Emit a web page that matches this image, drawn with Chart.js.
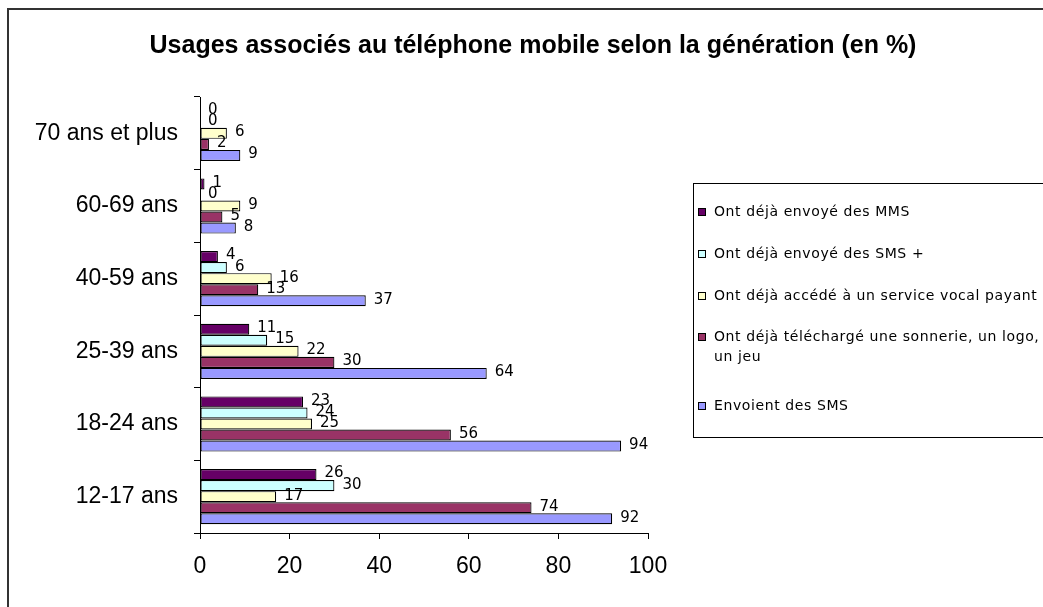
<!DOCTYPE html>
<html><head><meta charset="utf-8">
<script src="https://cdn.jsdelivr.net/npm/chart.js@4/dist/chart.umd.min.js"></script>
<style>html,body{margin:0;padding:0;background:#fff;overflow:hidden}#wrap{position:relative;width:1043px;height:607px}</style>
</head><body><div id="wrap"><canvas id="c" width="1043" height="607"></canvas></div>
<script>
const chartTitle = 'Usages associés au téléphone mobile selon la génération (en %)';
const categories = ['70 ans et plus', '60-69 ans', '40-59 ans', '25-39 ans', '18-24 ans', '12-17 ans'];
const seriesNames = [
  ['Ont déjà envoyé des MMS'],
  ['Ont déjà envoyé des SMS +'],
  ['Ont déjà accédé à un service vocal payant'],
  ['Ont déjà téléchargé une sonnerie, un logo,', 'un jeu'],
  ['Envoient des SMS']
];
const mms      = [0, 1, 4, 11, 23, 26];
const smsPlus  = [0, 0, 6, 15, 24, 30];
const vocal    = [6, 9, 16, 22, 25, 17];
const sonnerie = [2, 5, 13, 30, 56, 74];
const sms      = [9, 8, 37, 64, 94, 92];
const xTickValues = [0, 20, 40, 60, 80, 100];
const seriesColors = ['#660066', '#CCFFFF', '#FFFFCC', '#993366', '#9999FF'];

const seriesValues = [mms, smsPlus, vocal, sonnerie, sms];

const datasets = seriesValues.map((vals, i) => ({
  label: seriesNames[i].join(' '),
  data: vals,
  backgroundColor: seriesColors[i],
  borderColor: '#000',
  borderWidth: 1.2,
  borderSkipped: false,
  categoryPercentage: 0.76,
  barPercentage: 1.0
}));

const framePlugin = {
  id: 'frame',
  beforeDraw(chart) {
    const ctx = chart.ctx;
    ctx.save();
    ctx.fillStyle = '#fff';
    ctx.fillRect(0, 0, chart.width, chart.height);
    ctx.strokeStyle = '#333';
    ctx.lineWidth = 2;
    ctx.strokeRect(8, 9, 1200, 800);
    ctx.fillStyle = '#000';
    ctx.font = 'bold 25px "Liberation Sans", Arial, sans-serif';
    ctx.textAlign = 'center';
    ctx.textBaseline = 'middle';
    ctx.fillText(chartTitle, 533, 46);
    ctx.restore();
  }
};

const labelPlugin = {
  id: 'valueLabels',
  afterDatasetsDraw(chart) {
    const ctx = chart.ctx;
    ctx.save();
    ctx.font = '15px "DejaVu Sans", sans-serif';
    ctx.fillStyle = '#000';
    ctx.textAlign = 'left';
    ctx.textBaseline = 'middle';
    chart.data.datasets.forEach((ds, i) => {
      const meta = chart.getDatasetMeta(i);
      meta.data.forEach((el, j) => {
        ctx.fillText(String(ds.data[j]), el.x + 8, el.y - 1);
      });
    });
    ctx.restore();
  }
};

const legendPlugin = {
  id: 'boxLegend',
  afterDraw(chart) {
    const ctx = chart.ctx;
    const rows = [212, 254, 296, 337, 406];
    ctx.save();
    ctx.fillStyle = '#fff';
    ctx.strokeStyle = '#000';
    ctx.lineWidth = 1;
    ctx.fillRect(693, 183, 400, 254);
    ctx.strokeRect(693.5, 183.5, 400, 254);
    ctx.font = '14px "DejaVu Sans", sans-serif';
    try { ctx.letterSpacing = '0.6px'; } catch (e) {}
    ctx.textAlign = 'left';
    ctx.textBaseline = 'middle';
    chart.data.datasets.forEach((ds, i) => {
      const y = rows[i];
      ctx.fillStyle = ds.backgroundColor;
      ctx.fillRect(698, y - 4, 8, 8);
      ctx.strokeStyle = '#000';
      ctx.strokeRect(698.5, y - 3.5, 7, 7);
      ctx.fillStyle = '#000';
      seriesNames[i].forEach((line, k) => {
        ctx.fillText(line, 714, y + k * 20);
      });
    });
    ctx.restore();
  }
};

new Chart(document.getElementById('c'), {
  type: 'bar',
  data: { labels: categories, datasets },
  options: {
    indexAxis: 'y',
    responsive: false,
    animation: false,
    devicePixelRatio: 1,
    layout: { padding: { top: 97, right: 395, bottom: 0, left: 0 } },
    plugins: {
      legend: { display: false },
      title: { display: false },
      tooltip: { enabled: false }
    },
    scales: {
      x: {
        min: 0, max: 100,
        afterFit(scale) { scale.height = 74; },
        afterBuildTicks(scale) { scale.ticks = xTickValues.map(v => ({ value: v })); },
        grid: { drawOnChartArea: false, drawTicks: true, tickLength: 6, color: '#000', lineWidth: 1 },
        border: { display: true, color: '#000', width: 1 },
        ticks: { color: '#000', padding: 14, font: { family: '"Liberation Sans", Arial, sans-serif', size: 23 } }
      },
      y: {
        afterFit(scale) { scale.width = 200; },
        grid: { drawOnChartArea: false, drawTicks: true, tickLength: 6, color: '#000', lineWidth: 1, offset: true },
        border: { display: true, color: '#000', width: 1 },
        ticks: { color: '#000', padding: 16, font: { family: '"Liberation Sans", Arial, sans-serif', size: 23 } }
      }
    }
  },
  plugins: [framePlugin, labelPlugin, legendPlugin]
});
</script>
</body></html>
